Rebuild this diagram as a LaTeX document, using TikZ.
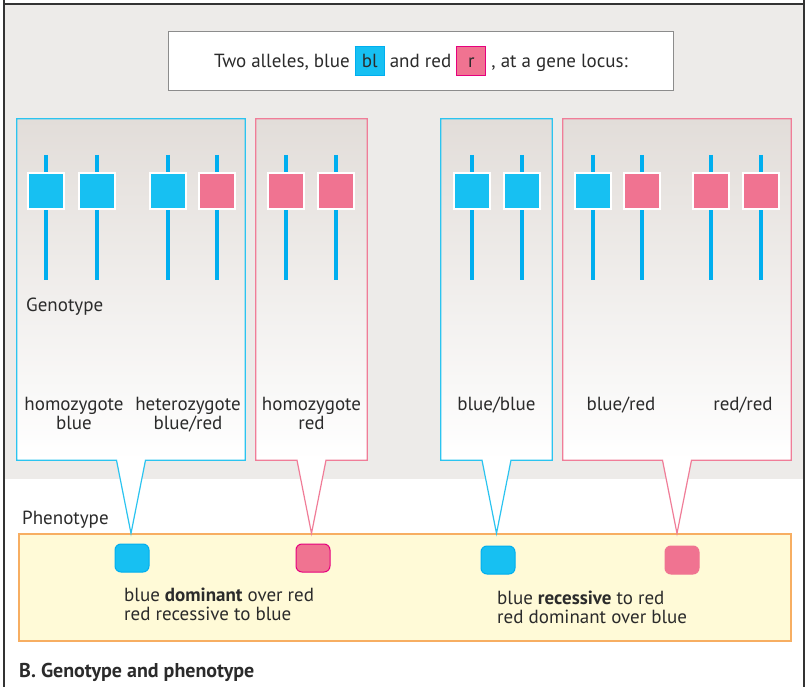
\documentclass[tikz,border=0pt]{standalone}
\usepackage{fontspec}
\setmainfont{PT Sans}
\usetikzlibrary{positioning, calc}

\definecolor{bggrey}{HTML}{EDEBE9}
\definecolor{panelgrey}{HTML}{E2DDD9}
\definecolor{frameline}{HTML}{333333}
\definecolor{txt}{HTML}{2B2B2B}
\definecolor{boxline}{HTML}{8C8C8C}
\definecolor{alblue}{HTML}{17C0F2}
\definecolor{alblueln}{HTML}{00AEEF}
\definecolor{alred}{HTML}{F07391}
\definecolor{alredln}{HTML}{E6007E}
\definecolor{panelblue}{HTML}{2BC4F0}
\definecolor{panelred}{HTML}{F07D98}
\definecolor{phfill}{HTML}{FFFAD7}
\definecolor{phline}{HTML}{F7AE62}

\newcommand{\genebox}[3]{{\setlength{\fboxsep}{0pt}\setlength{\fboxrule}{1pt}%
  \fcolorbox{#2}{#1}{\makebox[28pt]{\rule[-8pt]{0pt}{28pt}#3}}}}

\tikzset{
  every node/.style={font=\fontsize{19}{19}\selectfont, text=txt, inner sep=0pt},
  frame/.style={draw=frameline, line width=1.5pt},
  panel/.style={top color=panelgrey, bottom color=white, minimum height=341},
  blueframe/.style={draw=panelblue, line width=1.2pt},
  redframe/.style={draw=panelred, line width=1.2pt},
  chromline/.style={draw=alblueln, line width=4pt},
  allele/.style={minimum size=36, draw=white, line width=2pt},
  pheno/.style={minimum width=34, minimum height=28, rounded corners=6pt, line width=1pt},
  label/.style={anchor=north, align=center},
}

\begin{document}
\begin{tikzpicture}[x=1pt, y=-1pt]
\useasboundingbox (0,0) rectangle (807,687);
% background and frame
\fill [white] (0,0) rectangle (807,687);
\fill [bggrey] (4,4) rectangle (804,479);
\draw [frame] (4,0) -- (4,687);
\draw [frame] (804,0) -- (804,687);
\draw [frame] (4,4) -- (804,4);

% heading box
\node [draw=boxline, fill=white, line width=1pt, minimum width=505, minimum height=59] (alleles) at (421,61.5)
  {Two alleles, blue \genebox{alblue}{alblueln}{bl} and red \genebox{alred}{alredln}{r} , at a gene locus:};

% phenotype box
\node [draw=phline, fill=phfill, line width=1.2pt, minimum width=772, minimum height=107] (ph) at (405,587.5) {};

% genotype panels
\node [panel, minimum width=228] (gA) at (131,289.5) {};
\node [panel, minimum width=111] (gB) at (311.5,289.5) {};
\node [panel, minimum width=111] (gC) at (496.5,289.5) {};
\node [panel, minimum width=228] (gD) at (677,289.5) {};

% callout pointers
\foreach \g/\s in {gA/blueframe, gB/redframe, gC/blueframe, gD/redframe} {
  \coordinate (\g l) at ($(\g.south)+(-14.5,0)$);
  \coordinate (\g r) at ($(\g.south)+(14.5,0)$);
  \coordinate (\g t) at (\g.south |- ph.north);
  \fill [white] (\g l) -- (\g t) -- (\g r) -- cycle;
  \draw [\s] (\g r) -- (\g.south east) -- (\g.north east) -- (\g.north west)
    -- (\g.south west) -- (\g l) -- (\g t) -- cycle;
}

% chromosomes
\foreach \x/\c [count=\i] in {46/alblue, 97/alblue, 168/alblue, 217/alred,
    286/alred, 336/alred, 472/alblue, 522/alblue,
    593/alblue, 642/alred, 711/alred, 761/alred} {
  \draw [chromline] (\x,155) -- (\x,280);
  \node [allele, fill=\c] (c\i) at (\x,191) {};
}

% genotype labels
\node [anchor=west] (genotype) at (26,307) {Genotype};
\node [label] (homblue) at (74,397) {homozygote\\blue};
\node [label] (het) at (188,397) {heterozygote\\blue/red};
\node [label] (homred) at (311.5,397) {homozygote\\red};
\node [label] (bb) at (496.5,397) {blue/blue};
\node [label] (br) at (621,397) {blue/red};
\node [label] (rr) at (743,397) {red/red};

% phenotype
\node [anchor=west] (phenotype) at (22,520) {Phenotype};
\node [pheno, fill=alblue, draw=alblueln] (pA) at (132,558) {};
\node [pheno, fill=alred, draw=alredln] (pB) at (313,558) {};
\node [pheno, fill=alblue, draw=alblueln] (pC) at (498,560) {};
\node [pheno, fill=alred, draw=alred] (pD) at (682,560) {};
\node [anchor=north west, align=left] (domtext) at (124,588)
  {blue \textbf{dominant} over red\\red recessive to blue};
\node [anchor=north west, align=left] (rectext) at (497,591)
  {blue \textbf{recessive} to red\\red dominant over blue};

% caption
\node [anchor=west, font=\fontsize{20}{20}\selectfont\bfseries] (caption) at (19,672) {B. Genotype and phenotype};
\end{tikzpicture}
\end{document}
